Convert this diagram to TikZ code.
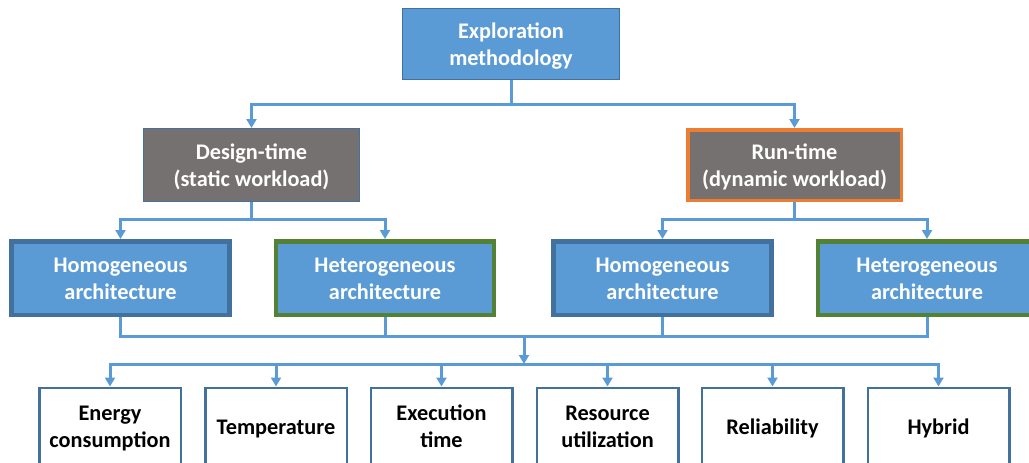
\documentclass[tikz,border=0pt]{standalone}
\usepackage{fontspec}
\setmainfont{Carlito}
\usetikzlibrary{arrows.meta}
\definecolor{cblue}{HTML}{5B9BD5}
\definecolor{cdark}{HTML}{41719C}
\definecolor{cgray}{HTML}{767171}
\definecolor{cgreen}{HTML}{548235}
\definecolor{corange}{HTML}{ED7D31}
\begin{document}
\begin{tikzpicture}[x=1pt,y=-1pt,
  txt/.style={font=\fontsize{22.3}{27}\selectfont\bfseries, align=center, inner sep=0pt, text height=47pt, text depth=5pt},
  oneline/.style={text height=20pt, text depth=4pt},
  topbox/.style={txt, text=white, fill=cblue, draw=cdark, line width=1pt, minimum width=217pt, minimum height=71pt},
  dtbox/.style={txt, text=white, fill=cgray, draw=cdark, line width=1pt, minimum width=216pt, minimum height=73pt},
  rtbox/.style={txt, text=white, fill=cgray, draw=corange, line width=3.5pt, minimum width=213.5pt, minimum height=70.5pt},
  archbox/.style={txt, text=white, fill=cblue, draw=#1, line width=4.5pt, minimum width=218pt, minimum height=73.5pt},
  critbox/.style={txt, text=black, fill=white, draw=cdark, line width=2.5pt, minimum width=141.5pt, minimum height=76.5pt},
  conn/.style={draw=cblue, line width=3pt},
  arr/.style={conn, -{Triangle[width=10pt,length=9pt]}}
]
\useasboundingbox (0,0) rectangle (1029,463);

\node[topbox] (top) at (511,44) {Exploration\\methodology};
\node[dtbox] (dt) at (251.5,165) {Design-time\\(static workload)};
\node[rtbox] (rt) at (794.5,165) {Run-time\\(dynamic workload)};

\node[archbox=cdark] (ho1) at (120.5,278) {Homogeneous\\architecture};
\node[archbox=cgreen] (he1) at (385,278) {Heterogeneous\\architecture};
\node[archbox=cdark] (ho2) at (662.5,278) {Homogeneous\\architecture};
\node[archbox=cgreen] (he2) at (927,278) {Heterogeneous\\architecture};

\node[critbox] (c1) at (110,426) {Energy\\consumption};
\node[critbox, oneline] (c2) at (276,426) {Temperature};
\node[critbox] (c3) at (441.5,426) {Execution\\time};
\node[critbox] (c4) at (607.5,426) {Resource\\utilization};
\node[critbox, oneline] (c5) at (772.5,426) {Reliability};
\node[critbox, oneline] (c6) at (938.5,426) {Hybrid};

% level 1
\coordinate (j1) at (511,104);
\draw[conn] (top.south) -- (j1);
\draw[arr] (j1) -| (dt.north);
\draw[arr] (j1) -| (rt.north);

% level 2
\coordinate (j2) at (251.5,219);
\coordinate (j3) at (794.5,219);
\draw[conn] (dt.south) -- (j2);
\draw[arr] (j2) -| (ho1.north);
\draw[arr] (j2) -| (he1.north);
\draw[conn] (rt.south) -- (j3);
\draw[arr] (j3) -| (ho2.north);
\draw[arr] (j3) -| (he2.north);

% level 3 merge
\coordinate (m) at (524,336);
\draw[conn] (ho1.south) |- (he2.south |- m) -- (he2.south);
\draw[conn] (he1.south) -- (he1.south |- m);
\draw[conn] (ho2.south) -- (ho2.south |- m);
\coordinate (b) at (524,364);
\draw[arr] (m) -- (b);

% bottom bus
\draw[arr] (b) -| (c1.north);
\draw[arr] (b) -| (c6.north);
\draw[arr] (c2.north |- b) -- (c2.north);
\draw[arr] (c3.north |- b) -- (c3.north);
\draw[arr] (c4.north |- b) -- (c4.north);
\draw[arr] (c5.north |- b) -- (c5.north);
\end{tikzpicture}
\end{document}
